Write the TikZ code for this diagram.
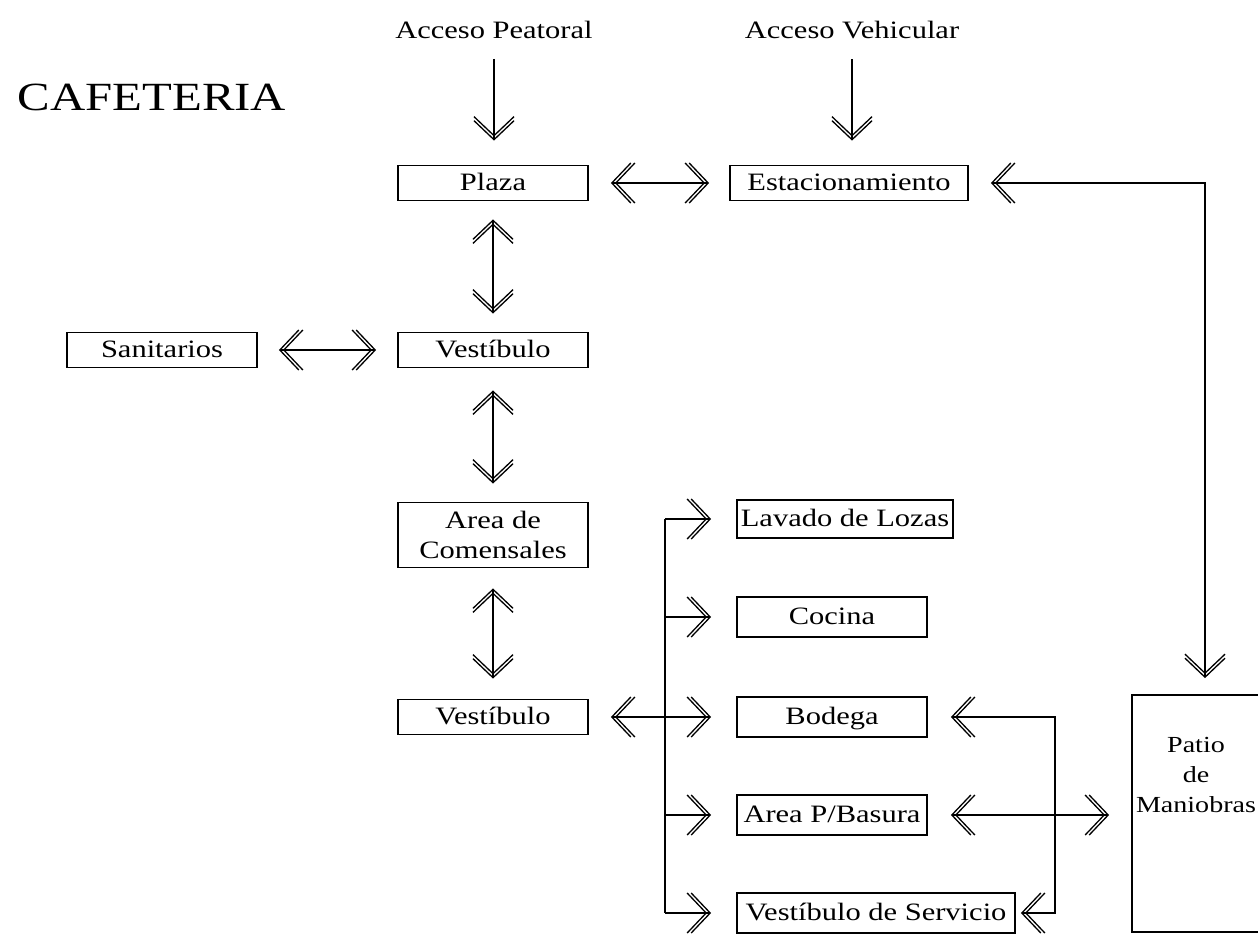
\documentclass[tikz,border=0pt]{standalone}
\usepackage{fontspec}
\setmainfont{Liberation Serif}[FakeStretch=1.22]
\usetikzlibrary{arrows.meta}
\tikzset{
  dv/.tip={Straight Barb[length=19pt,width=40pt,line width=1.3pt,sep=-16.5pt] Straight Barb[length=19pt,width=40pt,line width=1.3pt]},
  box/.style={draw,line width=1.8pt,minimum width=190pt,minimum height=35pt,inner sep=0pt,font=\fontsize{25}{29}\selectfont,text height=18pt,text depth=3pt},
  lbl/.style={font=\fontsize{25}{29}\selectfont,inner sep=0pt},
  con/.style={line width=1.8pt},
}
\begin{document}
\begin{tikzpicture}[x=1pt,y=-1pt]
\useasboundingbox (0,0) rectangle (1258,935);
\clip (0,0) rectangle (1258,935);
\node[font=\fontsize{40}{44}\selectfont,inner sep=0pt] (title) at (152,97) {CAFETERIA};
\node[lbl] (peat) at (494,30) {Acceso Peatoral};
\node[lbl] (vehi) at (852,30) {Acceso Vehicular};
\node[box] (plaza) at (493,183) {Plaza};
\node[box,minimum width=238pt] (estac) at (849,183) {Estacionamiento};
\node[box] (sani) at (162,350) {Sanitarios};
\node[box] (vest1) at (493,350) {Vestíbulo};
\node[box,minimum height=65pt,align=center,font=\fontsize{25}{30}\selectfont,text height=,text depth=] (area) at (493,535) {Area de\\Comensales};
\node[box] (vest2) at (493,717) {Vestíbulo};
\node[box,minimum width=216pt,minimum height=38pt] (lav) at (845,519) {Lavado de Lozas};
\node[box,minimum height=40pt] (coc) at (832,617) {Cocina};
\node[box,minimum height=40pt] (bod) at (832,717) {Bodega};
\node[box,minimum height=40pt] (bas) at (832,815) {Area P/Basura};
\node[box,minimum width=278pt,minimum height=40pt] (vserv) at (876,913) {Vestíbulo de Servicio};
\node[draw,line width=1.8pt,minimum width=170pt,minimum height=237pt,inner sep=0pt] (patio) at (1217,813.5) {};
\node[lbl,align=center,font=\fontsize{23}{30}\selectfont] (patiotxt) at (1196,775) {Patio\\de\\Maniobras};
% connectors
\draw[con,-{dv},shorten <=20pt,shorten >=24pt] (peat.south) -- (peat.south |- plaza.north);
\draw[con,-{dv},shorten <=20pt,shorten >=24pt] (vehi.south) -- (vehi.south |- estac.north);
\draw[con,{dv}-{dv},shorten <=22pt,shorten >=20pt] (plaza.east) -- (estac.west);
\coordinate (c1) at (1205,183);
\draw[con,{dv}-{dv},shorten <=22pt,shorten >=16pt] (estac.east) -- (c1) -- (c1 |- patio.north);
\draw[con,{dv}-{dv},shorten <=18pt,shorten >=18pt] (plaza.south) -- (vest1.north);
\draw[con,{dv}-{dv},shorten <=21pt,shorten >=21pt] (sani.east) -- (vest1.west);
\draw[con,{dv}-{dv},shorten <=22pt,shorten >=18pt] (vest1.south) -- (area.north);
\draw[con,{dv}-{dv},shorten <=20pt,shorten >=20pt] (area.south) -- (vest2.north);
\draw[con,{dv}-{dv},shorten <=22pt,shorten >=25pt] (vest2.east) -- (bod.west);
\coordinate (t1) at (665,519);
\coordinate (t5) at (665,913);
\draw[con] (t1) -- (t5);
\draw[con,-{dv},shorten >=25pt] (t1) -- (lav.west);
\draw[con,-{dv},shorten >=25pt] (t1 |- coc.west) -- (coc.west);
\draw[con,-{dv},shorten >=25pt] (t1 |- bas.west) -- (bas.west);
\draw[con,-{dv},shorten >=25pt] (t5) -- (vserv.west);
\coordinate (b1) at (1055,717);
\draw[con,{dv}-{dv},shorten <=23pt,shorten >=5pt] (bod.east) -- (b1) -- (b1 |- vserv.east) -- (vserv.east);
\draw[con,{dv}-{dv},shorten <=23pt,shorten >=22pt] (bas.east) -- (patio.west |- bas.east);
\end{tikzpicture}
\end{document}
